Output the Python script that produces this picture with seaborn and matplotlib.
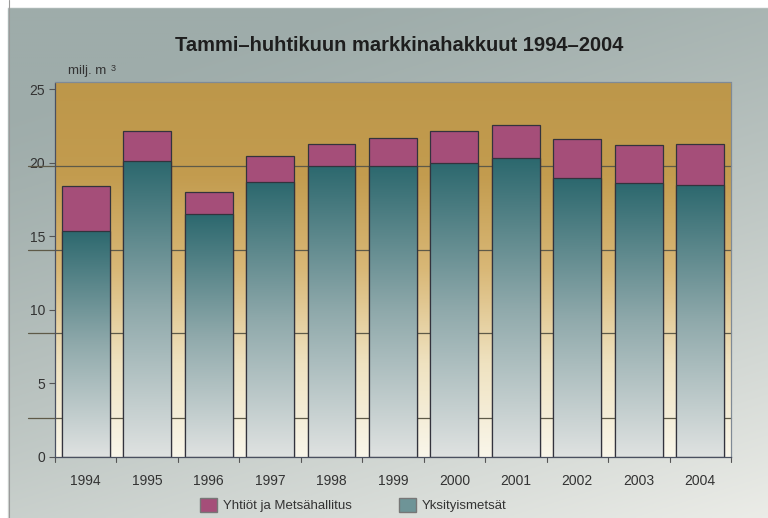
import numpy as np
import pandas as pd
import matplotlib
matplotlib.use("Agg")
import matplotlib.pyplot as plt
import matplotlib.patches as mpatches
from matplotlib.colors import LinearSegmentedColormap, to_rgb
import seaborn as sns

# Data (milj. m3)
years = ["1994", "1995", "1996", "1997", "1998", "1999",
         "2000", "2001", "2002", "2003", "2004"]
yksityismetsat = [15.4, 20.1, 16.5, 18.7, 19.8, 19.8, 20.0, 20.3, 18.95, 18.6, 18.5]
yhtiot = [3.0, 2.05, 1.55, 1.8, 1.5, 1.9, 2.15, 2.25, 2.65, 2.6, 2.75]

df = pd.DataFrame({"vuosi": years, "yks": yksityismetsat, "yht": yhtiot})
df["total"] = df["yks"] + df["yht"]

PINK = "#a54e79"
TEAL_TOP = "#2c686e"
TEAL_BOT = "#dfe2e1"
EDGE = "#33333d"

sns.set_theme(style="white")
plt.rcParams["font.family"] = ["Liberation Sans", "DejaVu Sans"]

fig = plt.figure(figsize=(7.68, 5.18), dpi=100)

# --- figure background (grey-blue, lighter towards bottom right) ---
bg = fig.add_axes([0, 0, 1, 1], zorder=-10)
h, w = 260, 384
yy, xx = np.mgrid[0:h, 0:w]
t = np.clip(0.75 * yy / h + 0.35 * xx / w - 0.15, 0, 1) ** 1.3
c0 = np.array(to_rgb("#9eacaa"))
c1 = np.array(to_rgb("#f1f1ec"))
img = c0[None, None, :] * (1 - t[..., None]) + c1[None, None, :] * t[..., None]
img[:4, :, :] = 1.0
img[:, :4, :] = 1.0
bg.imshow(img, aspect="auto", extent=[0, 1, 0, 1], origin="upper")
bg.axvline(4.5 / 384, color="#9a9a9a", lw=0.8)
bg.set_axis_off()

# --- plot axes ---
ax = fig.add_axes([0.0716, 0.1178, 0.8802, 0.7239])
ax.set_xlim(-0.5, len(years) - 0.5)
ax.set_ylim(0, 25.5)

# plot area gradient: tan/orange at top to cream at bottom
area_cmap = LinearSegmentedColormap.from_list(
    "area", ["#f9f6ea", "#efe2c0", "#d9b877", "#c39c4f", "#bd974a"])
grad = np.linspace(0, 1, 256).reshape(-1, 1)
ax.imshow(grad, cmap=area_cmap, aspect="auto", origin="lower",
          extent=[-0.5, len(years) - 0.5, 0, 25.5], zorder=0)

# grid lines (as in the original, offset from the ticks)
for lvl in [2.65, 8.4, 14.1, 19.8]:
    ax.axhline(lvl, xmin=-0.04, xmax=1, color="#5e5a48", lw=0.9,
               zorder=1, clip_on=False)

# stacked bars: total (pink) underneath, private forests on top of it
sns.barplot(data=df, x="vuosi", y="total", color=PINK, width=0.78,
            edgecolor=EDGE, linewidth=0.9, saturation=1, ax=ax, zorder=2)
sns.barplot(data=df, x="vuosi", y="yks", color=TEAL_TOP, width=0.78,
            edgecolor=EDGE, linewidth=0.9, saturation=1, ax=ax, zorder=3)

# gradient fill for the private forest bars
teal_cmap = LinearSegmentedColormap.from_list("teal", [TEAL_BOT, "#8fa9ab", TEAL_TOP])
for patch in ax.containers[1]:
    x0, y0 = patch.get_x(), patch.get_y()
    pw, ph = patch.get_width(), patch.get_height()
    im = ax.imshow(grad, cmap=teal_cmap, aspect="auto", origin="lower",
                   extent=[x0, x0 + pw, y0, y0 + ph], zorder=3)
    im.set_clip_path(patch)
    patch.set_facecolor("none")
    patch.set_zorder(4)

ax.set_xlim(-0.5, len(years) - 0.5)
ax.set_ylim(0, 25.5)
ax.set_xlabel("")
ax.set_ylabel("")

# axes styling
ax.set_yticks([0, 5, 10, 15, 20, 25])
ax.set_yticklabels(["0", "5", "10", "15", "20", "25"], fontsize=10, color="#333333")
ax.set_xticks(range(len(years)))
ax.set_xticklabels(years, fontsize=10, color="#333333")
ax.tick_params(axis="x", length=0, pad=12)
ax.tick_params(axis="y", length=4, width=0.8, color="#555555", left=True, pad=3)
for xt in np.arange(-0.5, len(years), 1.0):
    ax.plot([xt, xt], [0, -0.35], color="#555555", lw=0.8, clip_on=False, zorder=5)
for side, sp in ax.spines.items():
    sp.set_visible(True)
    sp.set_linestyle((0, (2, 1)))
    sp.set_linewidth(0.9)
    sp.set_color("#4a5060" if side in ("left", "bottom") else "#7f8a96")
    sp.set_zorder(6)

# texts
fig.text(0.52, 0.912, "Tammi\u2013huhtikuun markkinahakkuut 1994\u20132004",
         ha="center", va="center", fontsize=14.5, fontweight="bold", color="#1e1e1e")
fig.text(0.089, 0.862, "milj. m", ha="left", va="center", fontsize=9.5, color="#333333")
fig.text(0.144, 0.868, "3", ha="left", va="center", fontsize=6.5, color="#333333")

# legend
handles = [mpatches.Patch(facecolor=PINK, edgecolor="#777777", label="Yhtiöt ja Metsähallitus"),
           mpatches.Patch(facecolor="#6e9497", edgecolor="#777777", label="Yksityismetsät")]
fig.legend(handles=handles, loc="center", bbox_to_anchor=(0.46, 0.025), ncol=2,
           frameon=False, fontsize=9.5, handlelength=1.3, handleheight=1.3,
           columnspacing=3.6, handletextpad=0.4, labelcolor="#333333")

fig.savefig("out.png", dpi=100)
